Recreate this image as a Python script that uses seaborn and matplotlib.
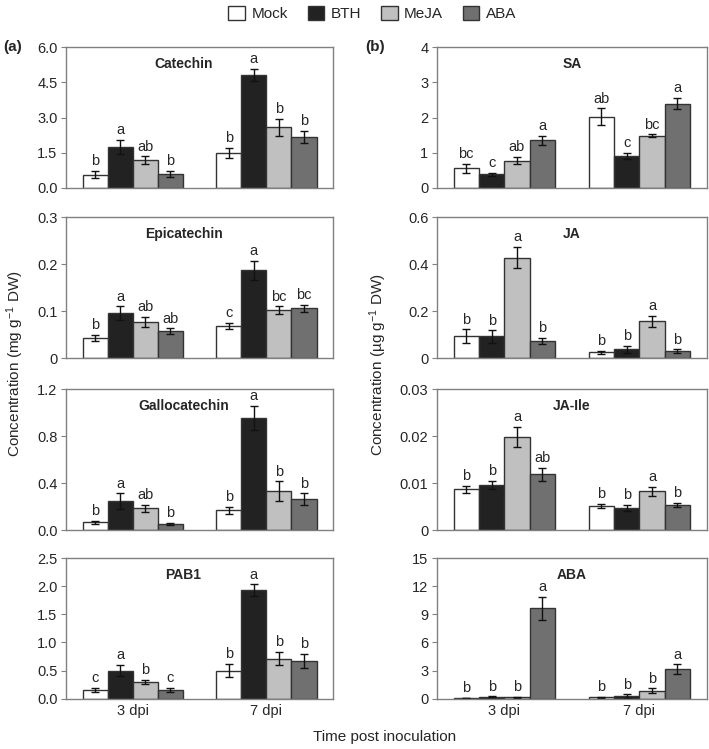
import numpy as np
import pandas as pd
import seaborn as sns
import matplotlib.pyplot as plt
from matplotlib.patches import Patch

treatments = ["Mock", "BTH", "MeJA", "ABA"]
times = ["3 dpi", "7 dpi"]
colors = ["#ffffff", "#222222", "#c0c0c0", "#707070"]

# values: [3 dpi x 4 treatments, 7 dpi x 4 treatments]
catechin = [0.57, 1.74, 1.18, 0.60, 1.49, 4.82, 2.58, 2.18]
catechin_err = [0.15, 0.31, 0.17, 0.12, 0.23, 0.26, 0.38, 0.26]
catechin_let = ["b", "a", "ab", "b", "b", "a", "b", "b"]

epicatechin = [0.043, 0.096, 0.077, 0.057, 0.068, 0.187, 0.102, 0.106]
epicatechin_err = [0.006, 0.014, 0.011, 0.006, 0.007, 0.020, 0.008, 0.007]
epicatechin_let = ["b", "a", "ab", "ab", "c", "a", "bc", "bc"]

gallocatechin = [0.068, 0.249, 0.187, 0.054, 0.170, 0.957, 0.331, 0.266]
gallocatechin_err = [0.011, 0.065, 0.031, 0.011, 0.030, 0.105, 0.085, 0.048]
gallocatechin_let = ["b", "a", "ab", "b", "b", "a", "b", "b"]

pab1 = [0.16, 0.50, 0.30, 0.16, 0.50, 1.93, 0.715, 0.67]
pab1_err = [0.04, 0.10, 0.04, 0.035, 0.12, 0.10, 0.12, 0.13]
pab1_let = ["c", "a", "b", "c", "b", "a", "b", "b"]

sa = [0.56, 0.39, 0.78, 1.35, 2.02, 0.91, 1.48, 2.40]
sa_err = [0.12, 0.05, 0.11, 0.13, 0.24, 0.08, 0.04, 0.17]
sa_let = ["bc", "c", "ab", "a", "ab", "c", "bc", "a"]

ja = [0.094, 0.092, 0.427, 0.074, 0.024, 0.037, 0.157, 0.030]
ja_err = [0.028, 0.026, 0.045, 0.013, 0.007, 0.015, 0.023, 0.007]
ja_let = ["b", "b", "a", "b", "b", "b", "a", "b"]

ja_ile = [0.0087, 0.0096, 0.0199, 0.0119, 0.0052, 0.0048, 0.0083, 0.0054]
ja_ile_err = [0.0008, 0.0009, 0.0021, 0.0014, 0.0005, 0.0006, 0.0009, 0.0005]
ja_ile_let = ["b", "b", "a", "ab", "b", "b", "a", "b"]

aba = [0.10, 0.20, 0.15, 9.64, 0.18, 0.28, 0.85, 3.16]
aba_err = [0.03, 0.05, 0.03, 1.20, 0.05, 0.20, 0.27, 0.50]
aba_let = ["b", "b", "b", "a", "b", "b", "b", "a"]

panels_left = [
    ("Catechin", catechin, catechin_err, catechin_let,
     [0, 1.5, 3.0, 4.5, 6.0], ["0.0", "1.5", "3.0", "4.5", "6.0"]),
    ("Epicatechin", epicatechin, epicatechin_err, epicatechin_let,
     [0, 0.1, 0.2, 0.3], ["0", "0.1", "0.2", "0.3"]),
    ("Gallocatechin", gallocatechin, gallocatechin_err, gallocatechin_let,
     [0, 0.4, 0.8, 1.2], ["0.0", "0.4", "0.8", "1.2"]),
    ("PAB1", pab1, pab1_err, pab1_let,
     [0, 0.5, 1.0, 1.5, 2.0, 2.5], ["0.0", "0.5", "1.0", "1.5", "2.0", "2.5"]),
]
panels_right = [
    ("SA", sa, sa_err, sa_let, [0, 1, 2, 3, 4], ["0", "1", "2", "3", "4"]),
    ("JA", ja, ja_err, ja_let, [0, 0.2, 0.4, 0.6], ["0", "0.2", "0.4", "0.6"]),
    ("JA-Ile", ja_ile, ja_ile_err, ja_ile_let,
     [0, 0.01, 0.02, 0.03], ["0", "0.01", "0.02", "0.03"]),
    ("ABA", aba, aba_err, aba_let,
     [0, 3, 6, 9, 12, 15], ["0", "3", "6", "9", "12", "15"]),
]

sns.set_style("white")
plt.rcParams["font.family"] = ["Liberation Sans", "DejaVu Sans"]
plt.rcParams["mathtext.default"] = "regular"

fig = plt.figure(figsize=(7.09, 7.49), dpi=100)

col_x = [(0.093, 0.377), (0.616, 0.381)]
row_y = [0.749, 0.522, 0.292, 0.067]
ax_h = 0.188
edge = "#333333"


def draw_panel(ax, title, vals, errs, lets, ticks, ticklabels, title_x, bottom):
    df = pd.DataFrame({
        "time": np.repeat(times, len(treatments)),
        "treatment": treatments * len(times),
        "value": vals,
    })
    sns.barplot(data=df, x="time", y="value", hue="treatment", order=times,
                hue_order=treatments, palette=colors, width=0.75,
                errorbar=None, edgecolor=edge, linewidth=1.0, legend=False, ax=ax)
    err_lookup = dict(zip(zip(df["time"], df["treatment"]), zip(errs, lets)))
    bar_sets = list(ax.containers)
    for t_i, cont in enumerate(bar_sets):
        for x_i, bar in enumerate(cont):
            err, let = err_lookup[(times[x_i], treatments[t_i])]
            xc = bar.get_x() + bar.get_width() / 2
            h = bar.get_height()
            ax.errorbar(xc, h, yerr=err, fmt="none", ecolor="#111111",
                        elinewidth=1.0, capsize=3, capthick=1.0)
            ax.annotate(let, (xc, h + err), xytext=(0, 2), textcoords="offset points",
                        ha="center", va="bottom", fontsize=10.5)
    ax.set_xlim(-0.5, 1.5)
    ax.set_ylim(ticks[0], ticks[-1])
    ax.set_yticks(ticks)
    ax.set_yticklabels(ticklabels)
    ax.set_xlabel("")
    ax.set_ylabel("")
    ax.text(title_x, 0.88, title, transform=ax.transAxes, ha="center", va="center",
            fontsize=10, fontweight="bold")
    for sp in ax.spines.values():
        sp.set_color("#808080")
        sp.set_linewidth(1.0)
    ax.tick_params(axis="y", left=True, length=3.5, width=0.8, color="#808080",
                   labelsize=10.5, pad=2.5)
    if bottom:
        ax.tick_params(axis="x", bottom=False, length=0, labelsize=10.5, pad=4)
    else:
        ax.set_xticklabels([])
        ax.tick_params(axis="x", bottom=False, length=0)


for c, (panels, tx) in enumerate([(panels_left, 0.44), (panels_right, 0.5)]):
    x0, w = col_x[c]
    for r, p in enumerate(panels):
        ax = fig.add_axes([x0, row_y[r], w, ax_h])
        draw_panel(ax, *p, title_x=tx, bottom=(r == 3))

fig.text(0.005, 0.937, "(a)", fontsize=11, fontweight="bold", va="center")
fig.text(0.515, 0.937, "(b)", fontsize=11, fontweight="bold", va="center")

fig.text(0.021, 0.515, "Concentration (mg g$^{-1}$ DW)", rotation=90,
         ha="center", va="center", fontsize=11)
fig.text(0.533, 0.513, "Concentration (µg g$^{-1}$ DW)", rotation=90,
         ha="center", va="center", fontsize=11)
fig.text(0.542, 0.016, "Time post inoculation", ha="center", va="center", fontsize=11)

handles = [Patch(facecolor=col, edgecolor=edge, linewidth=1.0, label=t)
           for t, col in zip(treatments, colors)]
fig.legend(handles=handles, loc="center", bbox_to_anchor=(0.525, 0.982), ncol=4,
           frameon=False, fontsize=11, handlelength=1.1, handleheight=1.1,
           handletextpad=0.4, columnspacing=1.3)

fig.savefig("out.png", dpi=100)
